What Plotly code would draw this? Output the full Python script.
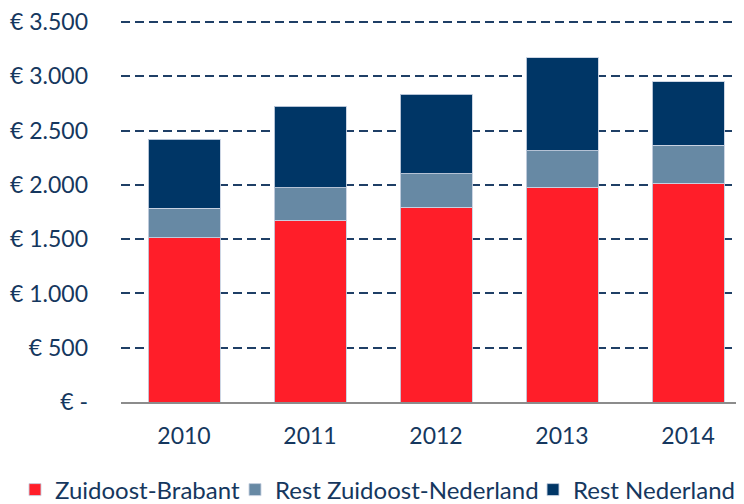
import plotly.graph_objects as go

years = ["2010", "2011", "2012", "2013", "2014"]
zuidoost_brabant = [1511, 1674, 1793, 1980, 2017]
rest_zuidoost_nl = [273, 301, 311, 335, 347]
rest_nederland = [636, 749, 730, 857, 587]

tick_vals = [0, 500, 1000, 1500, 2000, 2500, 3000, 3500]
tick_text = ["€ -", "€ 500", "€ 1.000", "€ 1.500", "€ 2.000", "€ 2.500", "€ 3.000", "€ 3.500"]

navy_text = "#15375E"
font_family = "Lato, 'Open Sans', sans-serif"

W, H = 736, 496  # page body has an 8px margin; the div sits at (8, 8)

fig = go.Figure()
series = [
    ("Zuidoost-Brabant", zuidoost_brabant, "#FF1E29", "legend"),
    ("Rest Zuidoost-Nederland", rest_zuidoost_nl, "#6789A4", "legend2"),
    ("Rest Nederland", rest_nederland, "#003666", "legend3"),
]
for name, vals, col, lg in series:
    fig.add_trace(go.Bar(
        x=years, y=vals, name=name, legend=lg,
        marker=dict(color=col, line=dict(color="rgba(200,210,225,0.9)", width=1)),
    ))

legend_y = (H - 482) / H
def leg(xpx):
    return dict(orientation="h", xref="container", yref="container",
                x=xpx / W, xanchor="left", y=legend_y, yanchor="middle",
                font=dict(size=24, color=navy_text), itemwidth=30,
                bgcolor="rgba(0,0,0,0)", borderwidth=0)

fig.update_layout(
    barmode="stack",
    bargap=0.4286,
    width=W, height=H,
    margin=dict(l=113, r=0, t=13, b=102, autoexpand=False),
    plot_bgcolor="white", paper_bgcolor="white",
    font=dict(family=font_family, size=23, color=navy_text),
    showlegend=True,
    legend=leg(7),
    legend2=leg(227),
    legend3=leg(525),
    xaxis=dict(
        range=[-0.5, 4.444], automargin=False,
        showline=True, linecolor="#8C8C8C", linewidth=2,
        showgrid=False, ticks="", ticklabelstandoff=12,
        tickfont=dict(size=23, color=navy_text),
    ),
    yaxis=dict(
        range=[0, 3510], automargin=False,
        tickvals=tick_vals, ticktext=tick_text,
        showgrid=True, gridcolor="#1F3F66", gridwidth=2, griddash="9px,5px",
        zeroline=False, showline=False, ticks="",
        ticklabelstandoff=32, ticklabeloverflow="allow",
        tickfont=dict(size=23, color=navy_text),
    ),
)

fig.write_html("out.html")
